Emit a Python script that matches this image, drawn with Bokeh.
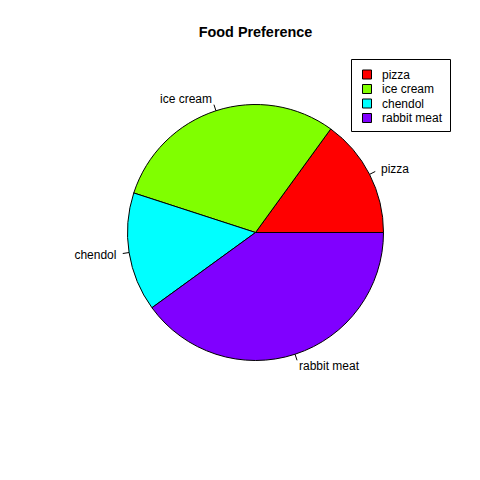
import numpy as np
from bokeh.plotting import figure
from bokeh.models import Range1d
from bokeh.core.properties import value
from bokeh.embed import file_html
from bokeh.resources import INLINE

# Data
categories = ["pizza", "ice cream", "chendol", "rabbit meat"]
values = [15, 30, 15, 40]
colors = ["#FF0000", "#80FF00", "#00FFFF", "#8000FF"]
title = "Food Preference"

W = H = 464
p = figure(width=W, height=H, output_backend="svg", toolbar_location=None,
           x_range=Range1d(0, W), y_range=Range1d(0, H), min_border=0)
p.axis.visible = False
p.grid.visible = False
p.outline_line_color = None
p.background_fill_color = "white"

FONT = value("Liberation Sans")

def Y(py):
    return H - py

# pie geometry (pixel units)
cx, cy, r = 255, Y(232), 128
vals = np.array(values, dtype=float)
frac = vals / vals.sum()
ends = np.cumsum(frac) * 2 * np.pi
starts = np.concatenate([[0], ends[:-1]])
p.wedge(x=cx, y=cy, radius=r, start_angle=list(starts), end_angle=list(ends),
        fill_color=colors, line_color="black", line_width=1)

mids = (starts + ends) / 2
cos, sin = np.cos(mids), np.sin(mids)
p.segment(x0=list(cx + r * cos), y0=list(cy + r * sin),
          x1=list(cx + 1.05 * r * cos), y1=list(cy + 1.05 * r * sin),
          line_color="black", line_width=1)
aligns = ["left" if c > 0 else "right" for c in cos]
p.text(x=list(cx + 1.1 * r * cos), y=list(cy + 1.1 * r * sin), text=categories,
       text_align=aligns, text_baseline="middle", text_font=FONT,
       text_font_size="12px", text_color="black")

# title
p.text(x=[255], y=[Y(31)], text=[title], text_align="center",
       text_baseline="middle", text_font=FONT, text_font_size="14.4px",
       text_font_style="bold", text_color="black")

# legend
p.quad(left=351, right=450, top=Y(59), bottom=Y(131), fill_color="white",
       line_color="black", line_width=1)
rows_y = [Y(74 + 14.5 * i) for i in range(len(categories))]
p.rect(x=[366.5] * len(categories), y=rows_y, width=9, height=9,
       fill_color=colors, line_color="black", line_width=1)
p.text(x=[381.5] * len(categories), y=rows_y, text=categories,
       text_align="left", text_baseline="middle", text_font=FONT,
       text_font_size="12px", text_color="black")

open("out.html", "w").write(file_html(p, INLINE))
